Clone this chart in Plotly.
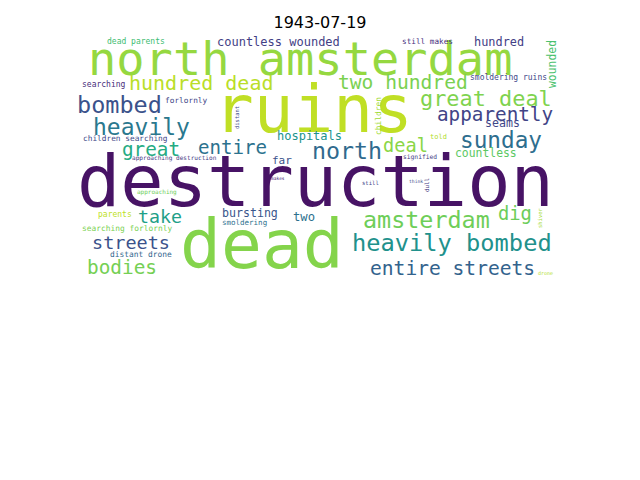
import plotly.graph_objects as go

# word cloud for one diary day
title = "1943-07-19"

words = [
    "destruction", "dead", "ruins", "north amsterdam", "hundred dead", "countless wounded",
    "dead parents", "searching", "bombed", "forlornly", "distant", "heavily",
    "children searching", "hospitals", "great", "entire", "approaching destruction", "north",
    "far", "makes", "two hundred", "great deal", "apparently", "seams",
    "sunday", "deal", "countless", "told", "children", "still makes",
    "hundred", "wounded", "smoldering ruins", "signified", "still", "think",
    "dull", "amsterdam", "dig", "shiver", "heavily bombed", "entire streets",
    "drone", "take", "bursting", "smoldering", "two", "parents",
    "approaching", "searching forlornly", "streets", "distant drone", "bodies",
]
# position of each word on the 640x480 page (pixels)
word_x = [
    315, 262, 313, 300, 201, 278,
    136, 104, 119, 186, 237, 141,
    125, 309, 151, 232, 174, 347,
    282, 278, 403, 486, 495, 502,
    501, 405, 486, 438, 378, 427,
    499, 552, 508, 420, 370, 416,
    427, 426, 515, 540, 452, 452,
    545, 160, 250, 244, 304, 115,
    157, 127, 131, 141, 122,
]
word_y = [
    181, 244, 109, 58, 83, 42,
    41, 84, 105, 100, 118, 127,
    138, 136, 149, 147, 158, 150,
    160, 178, 82, 98, 114, 123,
    140, 145, 153, 137, 116, 41,
    42, 64, 77, 157, 183, 181,
    185, 220, 213, 218, 243, 268,
    273, 216, 213, 222, 217, 214,
    192, 228, 242, 254, 267,
]
word_size = [
    72, 68, 66, 47, 20, 12,
    8, 8, 23.5, 7.8, 5.5, 23,
    7.8, 12, 19.3, 19.1, 6.1, 23.3,
    11, 4.5, 19.6, 21.9, 19.3, 11.6,
    22.7, 18.7, 11.4, 7, 7.9, 7.7,
    11.9, 11.4, 8, 6.3, 5.6, 4.7,
    5.8, 23.4, 18.8, 5.5, 23.7, 19.6,
    5, 18.3, 11.6, 7.5, 12.2, 8,
    6, 7.9, 18.5, 7.9, 19.4,
]
vertical = {"distant", "children", "wounded", "dull", "shiver"}
word_color = [
    "#471365", "#84d44b", "#c0df25", "#95d840", "#bade28", "#433e85",
    "#40bd72", "#472d7b", "#3b528b", "#414487", "#3e4c8a", "#2a788e",
    "#3e4989", "#20928c", "#25ab82", "#2c728e", "#453781", "#306a8e",
    "#3b528b", "#482677", "#7ad151", "#7fd34e", "#414487", "#3f4788",
    "#2e6e8e", "#8bd646", "#5cc863", "#b2dd2d", "#a2da37", "#46307e",
    "#424086", "#4ac16d", "#3f4889", "#433d84", "#414487", "#3e4989",
    "#453882", "#6ece58", "#6ccd5a", "#a5db36", "#21918c", "#33638d",
    "#b0dd2f", "#1fa088", "#39568c", "#2d708e", "#2d708e", "#bddf26",
    "#6ece58", "#7ad151", "#3b528b", "#32658e", "#75d054",
]

# the page body adds 8px around the figure
offset = 8

fig = go.Figure()

for w, x, y, s, c in zip(words, word_x, word_y, word_size, word_color):
    fig.add_annotation(
        x=x, y=y, xref="x", yref="y",
        text=w, showarrow=False,
        textangle=-90 if w in vertical else 0,
        xanchor="center", yanchor="middle",
        font=dict(family="DejaVu Sans Mono", size=s, color=c),
    )

fig.update_layout(
    width=640, height=480,
    margin=dict(l=0, r=0, t=0, b=0),
    paper_bgcolor="white", plot_bgcolor="white",
    xaxis=dict(range=[offset, 640 + offset], visible=False, fixedrange=True),
    yaxis=dict(range=[480 + offset, offset], visible=False, fixedrange=True),
    showlegend=False,
    title=dict(text=title, x=(320 - offset) / 640, xanchor="center",
               y=1 - (22 - offset) / 480, yanchor="middle",
               font=dict(family="DejaVu Sans", size=16, color="black")),
)

fig.write_html("out.html")
